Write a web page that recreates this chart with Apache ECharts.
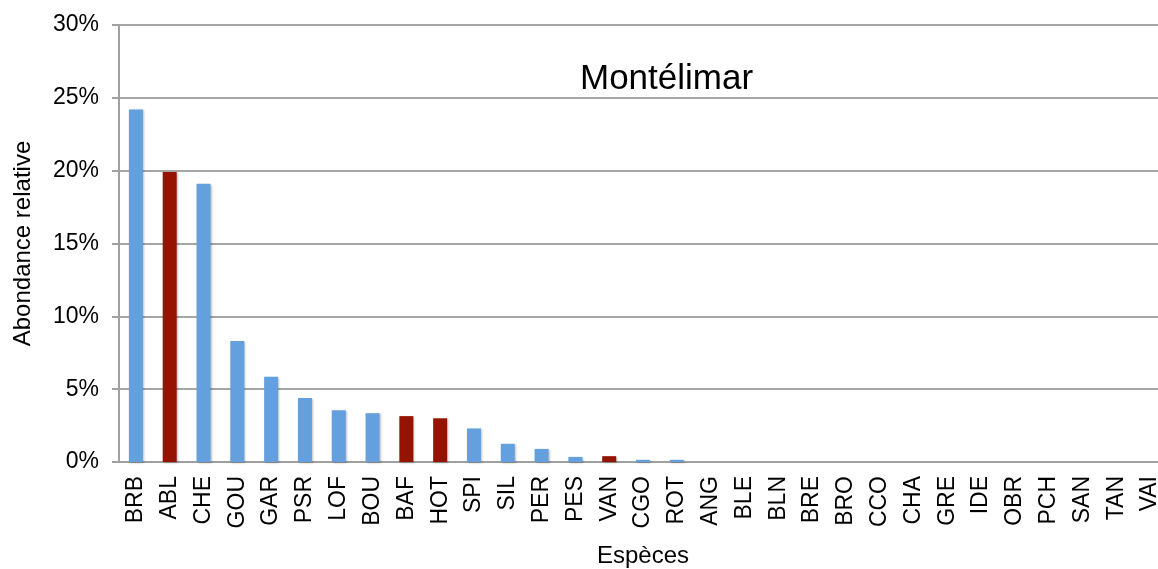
<!DOCTYPE html>
<html>
<head>
  <meta charset="utf-8">
  <script src="https://cdn.jsdelivr.net/npm/echarts@6/dist/echarts.min.js"></script>
  <style>
    html, body { margin: 0; padding: 0; background: #fff; }
    #container { width: 1158px; height: 569px; }
  </style>
</head>
<body>
<div id="container"></div>
<script>
  // espèces, dans l'ordre du graphique
  var especes = ['BRB', 'ABL', 'CHE', 'GOU', 'GAR', 'PSR', 'LOF', 'BOU', 'BAF', 'HOT',
    'SPI', 'SIL', 'PER', 'PES', 'VAN', 'CGO', 'ROT', 'ANG', 'BLE', 'BLN',
    'BRE', 'BRO', 'CCO', 'CHA', 'GRE', 'IDE', 'OBR', 'PCH', 'SAN', 'TAN', 'VAI'];
  // abondance relative (%)
  var abondance = [24.2, 19.9, 19.1, 8.3, 5.85, 4.4, 3.55, 3.35, 3.15, 3.0,
    2.3, 1.25, 0.9, 0.35, 0.4, 0.15, 0.15, 0, 0, 0,
    0, 0, 0, 0, 0, 0, 0, 0, 0, 0, 0];
  // espèces en rouge
  var especesRouges = ['ABL', 'BAF', 'HOT', 'VAN'];
  var yTicks = [0, 5, 10, 15, 20, 25, 30];

  var bleu = '#64a0de';
  var rouge = '#951300';
  var police = 'Liberation Sans, Arial, Helvetica, sans-serif';

  var data = especes.map(function (nom, i) {
    return {
      name: nom,
      value: abondance[i],
      itemStyle: {color: especesRouges.indexOf(nom) >= 0 ? rouge : bleu}
    };
  });

  var myChart = echarts.init(document.getElementById('container'));
  var option = {
    animation: false,
    title: {
      text: 'Montélimar',
      left: 575,
      top: 57,
      textStyle: {fontFamily: police, fontSize: 35, fontWeight: 'normal', color: '#000'}
    },
    grid: {left: 119, right: -9, top: 25, bottom: 107, containLabel: false, outerBoundsMode: 'none'},
    xAxis: {
      type: 'category',
      data: especes,
      name: 'Espèces',
      nameLocation: 'middle',
      nameGap: 82,
      nameTextStyle: {fontFamily: police, fontSize: 24, color: '#000'},
      axisLine: {lineStyle: {color: '#a0a0a0', width: 2}},
      axisTick: {length: 6, lineStyle: {color: '#a0a0a0', width: 2}},
      axisLabel: {rotate: 90, margin: 14, fontFamily: police, fontSize: 23, color: '#000', interval: 0}
    },
    yAxis: {
      type: 'value',
      min: yTicks[0],
      max: yTicks[yTicks.length - 1],
      interval: yTicks[1] - yTicks[0],
      name: 'Abondance relative',
      nameLocation: 'middle',
      nameGap: 84,
      nameTextStyle: {fontFamily: police, fontSize: 24, color: '#000'},
      axisLine: {show: true, lineStyle: {color: '#a0a0a0', width: 2}},
      axisTick: {show: true, length: 7, lineStyle: {color: '#a0a0a0', width: 2}},
      axisLabel: {formatter: '{value}%', margin: 20, fontFamily: police, fontSize: 23, color: '#000'},
      splitLine: {lineStyle: {color: '#a6a6a6', width: 2}}
    },
    series: [{
      type: 'bar',
      data: data,
      barWidth: 14,
      itemStyle: {
        shadowColor: 'rgba(0,0,0,0.25)',
        shadowBlur: 2,
        shadowOffsetX: 1,
        shadowOffsetY: 1
      }
    }]
  };
  myChart.setOption(option);
</script>
</body>
</html>
